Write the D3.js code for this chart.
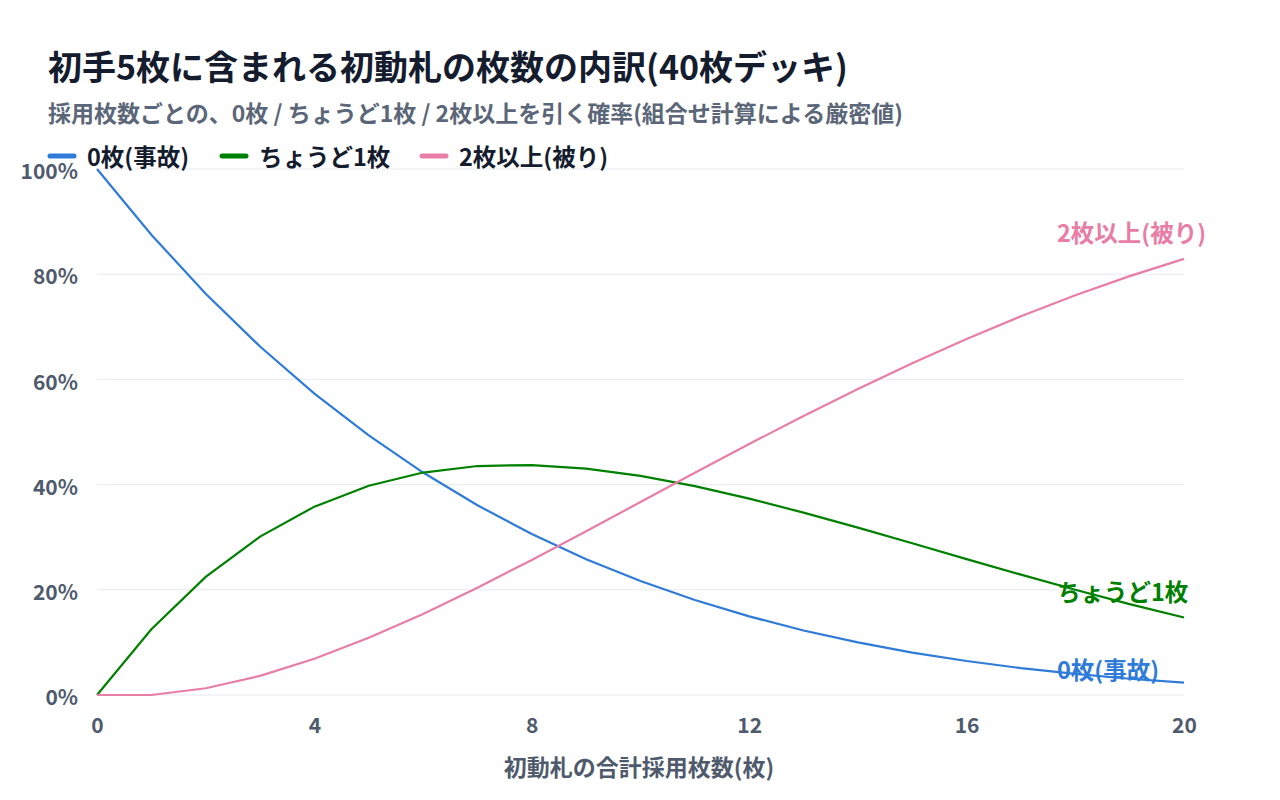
<!DOCTYPE html>
<html>
<head>
<meta charset="utf-8">
<script src="https://cdn.jsdelivr.net/npm/d3@7"></script>
<style>
  body { margin: 0; background: #fff; }
  svg { font-family: "Noto Sans CJK JP", "Noto Sans", sans-serif; }
</style>
</head>
<body>
<svg id="chart" width="1280" height="800"></svg>
<script>
// 採用枚数 (x axis)
var counts = [0,1,2,3,4,5,6,7,8,9,10,11,12,13,14,15,16,17,18,19,20];
// 0枚(事故)
var zeroVals = [1.0000,0.8750,0.7628,0.6625,0.5729,0.4934,0.4229,0.3607,0.3060,0.2582,0.2166,
                0.1805,0.1494,0.1227,0.1000,0.0807,0.0646,0.0511,0.0400,0.0309,0.0236];
// ちょうど1枚
var oneVals = [0.0000,0.1250,0.2244,0.3011,0.3581,0.3979,0.4229,0.4353,0.4372,0.4304,0.4165,
               0.3970,0.3734,0.3467,0.3181,0.2884,0.2584,0.2288,0.2001,0.1728,0.1473];
// 2枚以上(被り)
var twoVals = [0.0000,0.0000,0.0128,0.0364,0.0690,0.1087,0.1542,0.2040,0.2568,0.3114,0.3669,
               0.4225,0.4772,0.5306,0.5819,0.6309,0.6770,0.7201,0.7599,0.7963,0.8291];
var seriesNames = ["0枚(事故)", "ちょうど1枚", "2枚以上(被り)"];
var xTicks = [0,4,8,12,16,20];
var yTicks = [0,0.2,0.4,0.6,0.8,1.0];

var colors = ["#2f7bd9", "#008000", "#e87ea6"];

function drawChart() {
    var svg = d3.select("#chart");
    var mLeft = 97, mRight = 1184, mTop = 169, mBottom = 695;

    var x = d3.scaleLinear().domain([0, 20]).range([mLeft, mRight]);
    var y = d3.scaleLinear().domain([0, 1]).range([mBottom, mTop]);

    //Title and subtitle
    svg.append("text")
        .attr("x", 48).attr("y", 80)
        .attr("font-size", "34px").attr("font-weight", 700)
        .attr("fill", "#141c2e")
        .text("初手5枚に含まれる初動札の枚数の内訳(40枚デッキ)");

    svg.append("text")
        .attr("x", 48).attr("y", 122)
        .attr("font-size", "23px").attr("font-weight", 700)
        .attr("fill", "#5b6778")
        .text("採用枚数ごとの、0枚 / ちょうど1枚 / 2枚以上を引く確率(組合せ計算による厳密値)");

    //Grid lines
    svg.append("g")
        .selectAll("line")
        .data(yTicks)
        .enter()
        .append("line")
        .attr("x1", mLeft).attr("x2", mRight)
        .attr("y1", d => y(d)).attr("y2", d => y(d))
        .attr("stroke", "#e6e9ef")
        .attr("stroke-width", 1);

    //Y axis (labels only)
    var yAxis = d3.axisLeft(y).tickValues(yTicks)
        .tickFormat(d => Math.round(d * 100) + "%")
        .tickSize(0).tickPadding(19);
    var gy = svg.append("g").attr("transform", "translate(" + mLeft + ",3)").call(yAxis);
    gy.select(".domain").remove();
    gy.selectAll("text")
        .attr("font-size", "21px").attr("font-weight", 700)
        .attr("fill", "#4f5b6d")
        .attr("font-family", "'Noto Sans CJK JP', sans-serif");

    //X axis (labels only)
    var xAxis = d3.axisBottom(x).tickValues(xTicks).tickSize(0).tickPadding(23);
    var gx = svg.append("g").attr("transform", "translate(0," + mBottom + ")").call(xAxis);
    gx.select(".domain").remove();
    gx.selectAll("text")
        .attr("font-size", "21px").attr("font-weight", 700)
        .attr("fill", "#4f5b6d")
        .attr("font-family", "'Noto Sans CJK JP', sans-serif");

    svg.append("text")
        .attr("x", 639).attr("y", 776)
        .attr("text-anchor", "middle")
        .attr("font-size", "23px").attr("font-weight", 700)
        .attr("fill", "#4f5b6d")
        .text("初動札の合計採用枚数(枚)");

    //Lines
    var allSeries = [zeroVals, oneVals, twoVals];
    var line = d3.line()
        .x((d, i) => x(counts[i]))
        .y(d => y(d));

    svg.append("g")
        .selectAll("path")
        .data(allSeries)
        .enter()
        .append("path")
        .attr("d", d => line(d))
        .attr("fill", "none")
        .attr("stroke", (d, i) => colors[i])
        .attr("stroke-width", 2.2);

    //Legend
    var legendX = [48, 220, 420];
    var legend = svg.append("g")
        .selectAll("g")
        .data(seriesNames)
        .enter()
        .append("g")
        .attr("transform", (d, i) => "translate(" + legendX[i] + ",156)");
    legend.append("line")
        .attr("x1", 2).attr("x2", 26)
        .attr("stroke", (d, i) => colors[i])
        .attr("stroke-width", 5)
        .attr("stroke-linecap", "round");
    legend.append("text")
        .attr("x", 39).attr("y", 10)
        .attr("font-size", "23.5px").attr("font-weight", 700)
        .attr("fill", "#141c2e")
        .text(d => d);

    //End labels
    var labelAt = [
        {v: zeroVals[18], dy: -5},
        {v: oneVals[18], dy: 1},
        {v: twoVals[20], dy: -27}
    ];
    svg.append("g")
        .selectAll("text")
        .data(seriesNames)
        .enter()
        .append("text")
        .attr("x", mRight - 127)
        .attr("y", (d, i) => y(labelAt[i].v) + labelAt[i].dy)
        .attr("dominant-baseline", "central")
        .attr("font-size", "23.5px").attr("font-weight", 700)
        .attr("fill", (d, i) => colors[i])
        .text(d => d);
}
drawChart();
</script>
</body>
</html>
